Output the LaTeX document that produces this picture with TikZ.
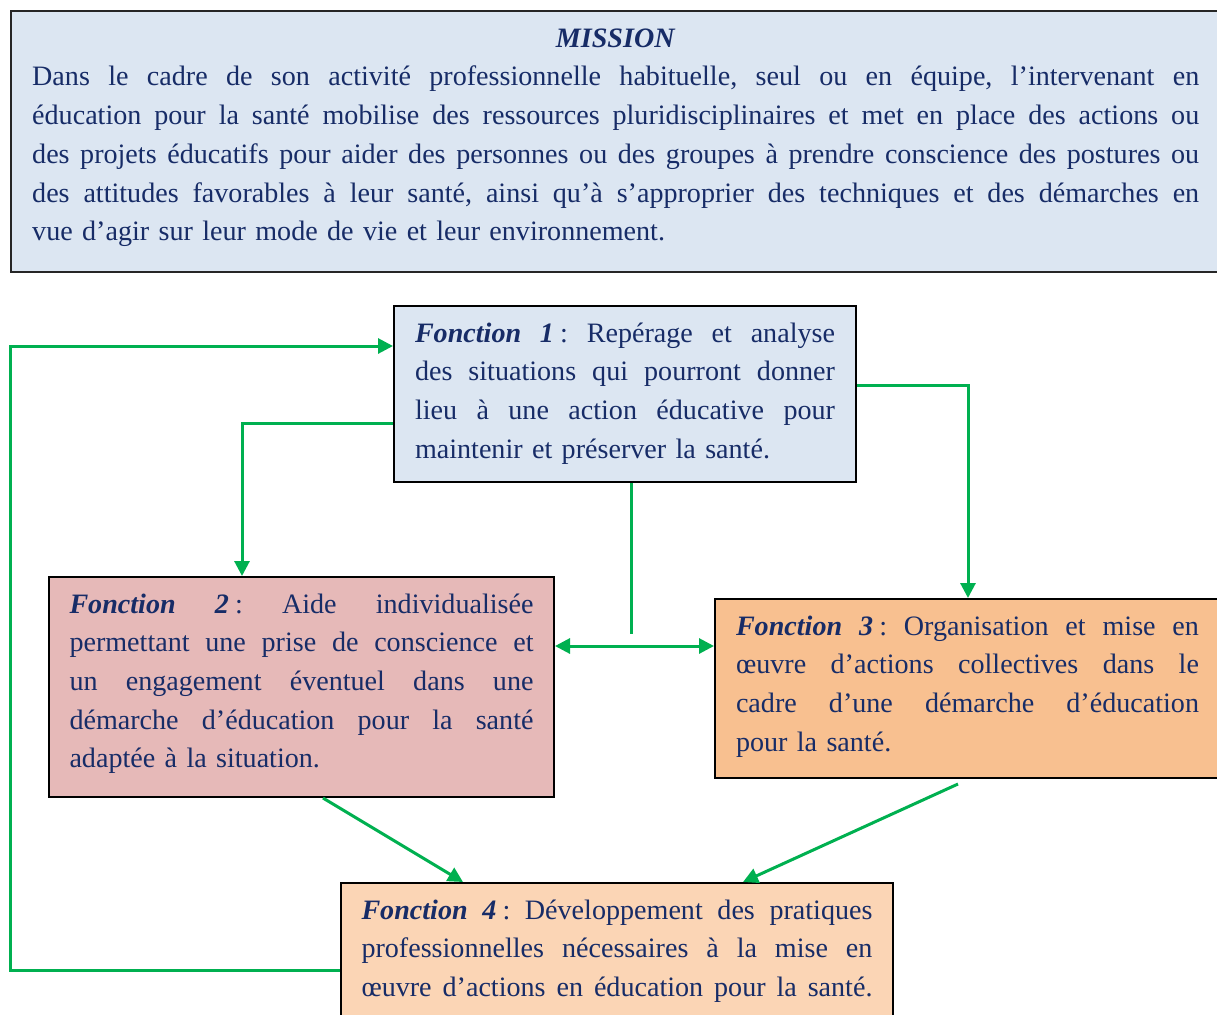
\documentclass[tikz,border=0pt]{standalone}
\usepackage{fontspec}
\setmainfont{Liberation Serif}
\usetikzlibrary{arrows.meta}
\definecolor{navy}{HTML}{172C67}
\definecolor{arrowgreen}{HTML}{00B050}
\definecolor{bluebg}{HTML}{DCE6F2}
\definecolor{rosebg}{HTML}{E6B9B8}
\definecolor{orangebg}{HTML}{F8C090}
\definecolor{peachbg}{HTML}{FBD5B5}
\newcommand{\jline}[1]{\leavevmode\hbox to \hsize{\frenchspacing\spaceskip=\fontdimen2\font plus 1fil\relax\xspaceskip=\spaceskip #1}}
\newcommand{\fnc}[1]{\textbf{\textit{Fonction #1}}\kern0.22em:}
\newcommand{\topstrut}{\rule{0pt}{10pt}}
\newcommand{\botstrut}[1]{\rule[-#1]{0pt}{#1}}
\begin{document}
\begin{tikzpicture}[x=0.5pt,y=-0.5pt,
  box/.style={draw=black, line width=1pt, anchor=north west, inner ysep=8pt,
    font=\fontsize{14.05pt}{19.35pt}\selectfont, text=navy, align=left},
  conn/.style={draw=arrowgreen, line width=1.5pt, -{Triangle[length=7.5pt,width=7.5pt]}},
  plain/.style={draw=arrowgreen, line width=1.5pt}]
\useasboundingbox (0,0) rectangle (1217,1014);
\clip (0,0) rectangle (1217,1014);

% Mission
\node[box, fill=bluebg, draw=black!85, line width=1.2pt, text width=583.5pt, inner xsep=10.5pt] (mission) at (10,10) {%
\topstrut\leavevmode\hbox to \hsize{\hfil\textbf{\textit{MISSION}}\hfil}\\
\jline{Dans le cadre de son activité professionnelle habituelle, seul ou en équipe, l’intervenant en}\\
\jline{éducation pour la santé mobilise des ressources pluridisciplinaires et met en place des actions ou}\\
\jline{des projets éducatifs pour aider des personnes ou des groupes à prendre conscience des postures ou}\\
\jline{des attitudes favorables à leur santé, ainsi qu’à s’approprier des techniques et des démarches en}\\
vue d’agir sur leur mode de vie et leur environnement.\botstrut{7.75pt}};

% Fonction 1
\node[box, fill=bluebg, text width=210pt, inner xsep=10.5pt] (f1) at (393,305) {%
\topstrut\jline{\fnc{1} Repérage et analyse}\\
\jline{des situations qui pourront donner}\\
\jline{lieu à une action éducative pour}\\
maintenir et préserver la santé.\botstrut{3.95pt}};

% Fonction 2
\node[box, fill=rosebg, text width=232pt, inner xsep=10.25pt] (f2) at (48,576) {%
\topstrut\jline{\fnc{2} Aide individualisée}\\
\jline{permettant une prise de conscience et}\\
\jline{un engagement éventuel dans une}\\
\jline{démarche d’éducation pour la santé}\\
adaptée à la situation.\botstrut{6.6pt}};

% Fonction 3
\node[box, fill=orangebg, text width=231.5pt, inner xsep=10.5pt] (f3) at (714,598) {%
\topstrut\jline{\fnc{3} Organisation et mise en}\\
\jline{œuvre d’actions collectives dans le}\\
\jline{cadre d’une démarche d’éducation}\\
pour la santé.\botstrut{5.45pt}};

% Fonction 4
\node[box, fill=peachbg, text width=255.5pt, inner xsep=10.25pt] (f4) at (340,882) {%
\topstrut\jline{\fnc{4} Développement des pratiques}\\
\jline{professionnelles nécessaires à la mise en}\\
\jline{œuvre d’actions en éducation pour la santé.}\botstrut{60pt}};

% Connectors
\coordinate (loopcorner) at (10,346);
\draw[conn] ([yshift=-44pt]f4.north west) -| (loopcorner) -- ([yshift=-20.5pt]f1.north west);
\draw[conn] ([yshift=-59pt]f1.north west) -| ([xshift=97pt]f2.north west);
\draw[conn] ([yshift=-40pt]f1.north east) -| ([xshift=127pt]f3.north west);
\coordinate (stub) at (631,634);
\draw[plain] ([xshift=119pt]f1.south west) -- (stub);
\draw[conn, {Triangle[length=7.5pt,width=7.5pt]}-{Triangle[length=7.5pt,width=7.5pt]}] ([yshift=-35pt]f2.north east) -- ([yshift=-24pt]f3.north west);
\draw[conn] ([xshift=137.5pt]f2.south west) -- ([xshift=61.5pt]f4.north west);
\draw[conn] ([xshift=122pt,yshift=-2.5pt]f3.south west) -- ([xshift=201.5pt]f4.north west);
\end{tikzpicture}
\end{document}
